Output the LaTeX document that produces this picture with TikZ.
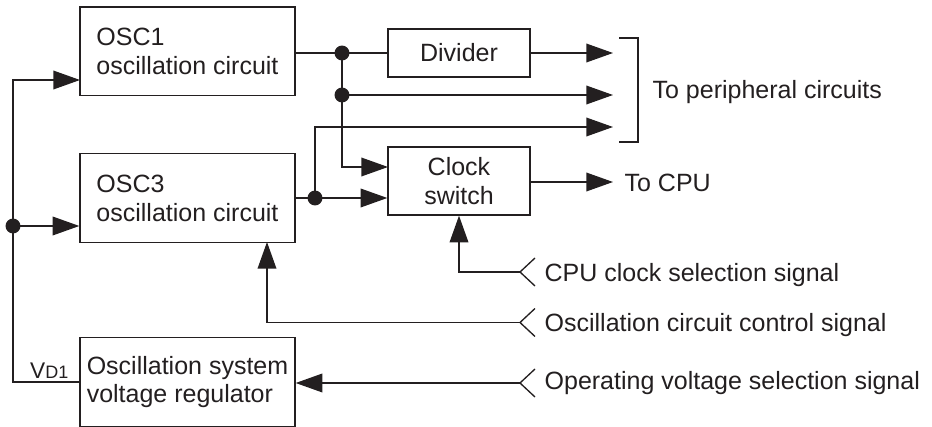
\documentclass[tikz,border=0pt]{standalone}
\usepackage{fontspec}
\setmainfont{Liberation Sans}
\usetikzlibrary{arrows.meta}
\definecolor{trait}{HTML}{231F20}
\begin{document}
\begin{tikzpicture}[x=0.75pt,y=-0.75pt,line width=1pt,color=trait]
            \tikzstyle{bloc}=[draw,rectangle,inner sep=0pt,font=\fontsize{18.75}{21.6}\selectfont]
            \tikzstyle{grand}=[bloc,minimum width=161.25pt,minimum height=66.5pt,align=left]
            \tikzstyle{petit}=[bloc,minimum width=106.5pt,align=center]
            \tikzstyle{texte}=[inner sep=0pt,anchor=base west,font=\fontsize{18.75}{21.6}\selectfont]
            \tikzstyle{fleche}=[-{Triangle[length=20pt,width=14pt]}]
            \useasboundingbox (0,0) rectangle (932,427);
            \node[grand] (osc1) at (187.5,51.5) {OSC1\\oscillation circuit};
            \node[grand] (osc3) at (187.5,198) {OSC3\\oscillation circuit};
            \node[grand] (reg) at (187.5,382) {Oscillation system\\voltage regulator};
            \node[petit,minimum height=36pt] (div) at (459,53) {Divider};
            \node[petit,minimum height=51pt] (clk) at (459,181) {Clock\\switch};
            \node[texte] (periph) at (652,98.5) {To peripheral circuits};
            \node[texte] (tocpu) at (624,192) {To CPU};
            \node[texte] (sig1) at (544,281.5) {CPU clock selection signal};
            \node[texte] (sig2) at (544,331.5) {Oscillation circuit control signal};
            \node[texte] (sig3) at (544,390) {Operating voltage selection signal};
            \node[inner sep=0pt,anchor=base east] (vd) at (69,378.5) {{\fontsize{17}{17}\selectfont V}{\fontsize{13.5}{13.5}\selectfont D1}};
            % points de raccordement
            \coordinate (bus) at (13,226);
            \coordinate (osc1in) at (80,80);
            \coordinate (j1) at (342,53);
            \coordinate (j2) at (342,95);
            \coordinate (j3) at (315,198);
            \coordinate (clkin) at (388,167);
            \coordinate (p1) at (613,53);
            \coordinate (p2) at (613,95);
            \coordinate (p3) at (613,127);
            \coordinate (cpu) at (613,182);
            \coordinate (ctlin) at (267,242);
            \coordinate (cpusel) at (520,272);
            \coordinate (oscctl) at (520,322.5);
            \coordinate (opvolt) at (520,383);
            % liaisons
            \draw[fleche] (reg.west) -| (bus) |- (osc1in);
            \draw[fleche] (bus) -- (osc3.west |- bus);
            \draw (osc1.east |- j1) -- (div.west |- j1);
            \draw[fleche] (div.east |- p1) -- (p1);
            \draw[fleche] (j1) |- (clkin);
            \draw[fleche] (j2) -- (p2);
            \draw[fleche] (osc3.east) -- (osc3.east -| clk.west);
            \draw[fleche] (j3) |- (p3);
            \draw[fleche] (clk.east |- cpu) -- (cpu);
            \draw[fleche] (cpusel) -| (clk.south);
            \draw[fleche] (oscctl) -| (ctlin);
            \draw[fleche] (opvolt) -- (reg.east |- opvolt);
            \foreach \s in {cpusel,oscctl,opvolt}
                \draw (\s) ++(15,-14) -- (\s) -- ++(15,14);
            \foreach \j in {bus,j1,j2,j3}
                \fill (\j) circle (5.6pt);
            \draw (619,38) -- (638,38) -- (638,142) -- (619,142);
        \end{tikzpicture}
\end{document}
